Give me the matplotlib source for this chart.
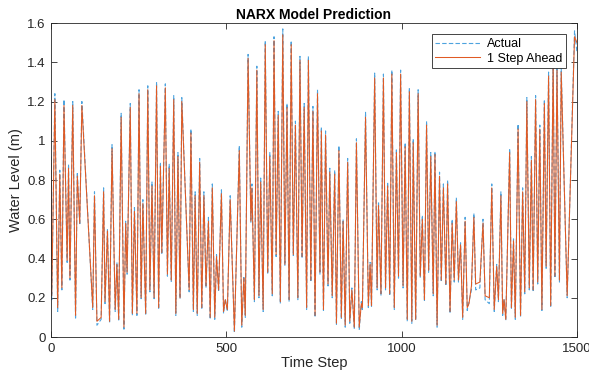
import matplotlib
matplotlib.use("Agg")
import matplotlib.pyplot as plt

plt.rcParams['font.family'] = ['Liberation Sans', 'DejaVu Sans']

time_steps = [
    0, 2, 11, 19, 25, 31, 37, 46, 50, 54,
    62, 70, 75, 82, 88, 119, 124, 131, 143, 150,
    154, 161, 167, 174, 183, 188, 193, 200, 208, 213,
    217, 226, 232, 238, 245, 251, 257, 262, 270, 276,
    282, 288, 294, 301, 307, 312, 316, 326, 332, 337,
    343, 350, 356, 362, 368, 373, 394, 399, 406, 411,
    417, 424, 430, 436, 442, 449, 454, 460, 467, 472,
    478, 486, 492, 497, 503, 511, 523, 537, 544, 550,
    554, 562, 570, 573, 580, 587, 593, 598, 605, 611,
    618, 624, 631, 636, 642, 648, 654, 661, 667, 673,
    679, 685, 691, 697, 704, 710, 716, 722, 729, 734,
    741, 747, 753, 760, 767, 771, 777, 783, 790, 795,
    802, 809, 814, 821, 828, 833, 839, 846, 852, 858,
    865, 871, 879, 885, 888, 897, 905, 910, 914, 923,
    930, 934, 941, 948, 954, 960, 966, 972, 979, 985,
    991, 997, 1004, 1010, 1016, 1022, 1029, 1033, 1040, 1047,
    1053, 1059, 1065, 1071, 1077, 1083, 1090, 1095, 1101, 1108,
    1113, 1119, 1126, 1131, 1138, 1144, 1150, 1156, 1162, 1168,
    1174, 1181, 1187, 1192, 1199, 1206, 1211, 1223, 1232, 1238,
    1250, 1257, 1264, 1271, 1276, 1283, 1288, 1292, 1297, 1308,
    1313, 1319, 1324, 1332, 1339, 1345, 1351, 1357, 1364, 1370,
    1375, 1382, 1388, 1394, 1400, 1407, 1412, 1419, 1425, 1432,
    1437, 1443, 1450, 1455, 1472, 1493, 1500,
]

actual = [
    0.92, 0.19, 1.24, 0.13, 0.85, 0.24, 1.21, 0.38, 0.88, 0.29,
    1.20, 0.09, 0.84, 0.57, 1.20, 0.14, 0.74, 0.06, 0.09, 0.76,
    0.17, 0.55, 0.07, 0.98, 0.13, 0.38, 0.08, 1.14, 0.04, 0.59,
    0.32, 1.19, 0.11, 0.66, 0.11, 1.26, 0.195, 0.70, 0.11, 1.28,
    0.23, 0.79, 0.195, 1.30, 0.14, 0.89, 0.42, 1.29, 0.31, 0.88,
    0.28, 1.23, 0.11, 0.94, 0.195, 1.22, 0.23, 1.06, 0.13, 0.74,
    0.11, 0.91, 0.14, 0.74, 0.25, 0.61, 0.09, 0.78, 0.09, 0.42,
    0.23, 0.75, 0.12, 0.195, 0.13, 0.72, 0.02, 0.975, 0.05, 0.31,
    0.10, 1.44, 0.585, 0.78, 0.18, 1.38, 0.20, 0.81, 0.13, 1.51,
    0.32, 0.94, 0.21, 1.53, 0.41, 1.15, 0.17, 1.57, 0.365, 1.19,
    0.18, 1.51, 0.415, 1.10, 0.19, 1.43, 0.40, 1.19, 0.14, 1.43,
    0.28, 1.175, 0.10, 1.26, 0.32, 1.07, 0.135, 1.05, 0.26, 0.86,
    0.20, 0.85, 0.06, 0.975, 0.09, 0.60, 0.05, 0.91, 0.07, 0.25,
    0.04, 1.01, 0.035, 0.18, 0.14, 1.145, 0.15, 0.38, 0.15, 1.345,
    0.24, 0.69, 0.21, 1.34, 0.24, 0.79, 0.21, 1.36, 0.14, 0.96,
    0.30, 1.36, 0.25, 0.99, 0.08, 1.27, 0.07, 1.01, 0.085, 1.26,
    0.305, 0.62, 0.18, 1.10, 0.33, 0.94, 0.21, 0.945, 0.05, 0.84,
    0.28, 0.78, 0.26, 0.80, 0.12, 0.60, 0.28, 0.71, 0.28, 0.48,
    0.09, 0.61, 0.135, 0.18, 0.24, 0.63, 0.24, 0.25, 0.60, 0.19,
    0.17, 0.78, 0.13, 0.37, 0.18, 0.74, 0.11, 0.195, 0.085, 0.96,
    0.14, 0.50, 0.09, 1.085, 0.10, 0.76, 0.22, 1.22, 0.24, 0.92,
    0.23, 1.23, 0.27, 1.08, 0.135, 1.21, 0.35, 1.35, 0.15, 1.43,
    0.30, 1.38, 0.28, 1.37, 0.20, 1.56, 1.45,
]

predicted = [
    0.90, 0.21, 1.21, 0.15, 0.83, 0.25, 1.18, 0.39, 0.86, 0.30,
    1.18, 0.11, 0.82, 0.58, 1.18, 0.15, 0.72, 0.08, 0.10, 0.74,
    0.18, 0.54, 0.08, 0.96, 0.14, 0.37, 0.09, 1.12, 0.05, 0.58,
    0.33, 1.17, 0.12, 0.64, 0.12, 1.24, 0.20, 0.68, 0.12, 1.26,
    0.24, 0.77, 0.20, 1.28, 0.15, 0.87, 0.43, 1.27, 0.32, 0.86,
    0.29, 1.21, 0.12, 0.92, 0.20, 1.20, 0.24, 1.04, 0.14, 0.72,
    0.12, 0.89, 0.15, 0.72, 0.26, 0.59, 0.10, 0.76, 0.10, 0.41,
    0.24, 0.73, 0.13, 0.19, 0.14, 0.70, 0.03, 0.95, 0.06, 0.30,
    0.11, 1.42, 0.59, 0.76, 0.19, 1.36, 0.21, 0.79, 0.14, 1.49,
    0.33, 0.92, 0.22, 1.51, 0.42, 1.13, 0.18, 1.54, 0.37, 1.17,
    0.19, 1.49, 0.42, 1.08, 0.20, 1.41, 0.41, 1.17, 0.15, 1.41,
    0.29, 1.15, 0.11, 1.24, 0.33, 1.05, 0.14, 1.03, 0.27, 0.84,
    0.21, 0.83, 0.07, 0.95, 0.10, 0.59, 0.06, 0.89, 0.08, 0.24,
    0.05, 0.99, 0.05, 0.17, 0.15, 1.12, 0.16, 0.37, 0.16, 1.32,
    0.25, 0.67, 0.22, 1.32, 0.25, 0.77, 0.22, 1.34, 0.15, 0.94,
    0.31, 1.34, 0.26, 0.97, 0.09, 1.25, 0.08, 0.99, 0.09, 1.24,
    0.31, 0.60, 0.19, 1.08, 0.34, 0.92, 0.22, 0.93, 0.06, 0.82,
    0.29, 0.76, 0.27, 0.78, 0.13, 0.58, 0.29, 0.69, 0.29, 0.47,
    0.10, 0.59, 0.15, 0.17, 0.26, 0.61, 0.27, 0.28, 0.58, 0.21,
    0.20, 0.76, 0.14, 0.36, 0.19, 0.72, 0.12, 0.19, 0.09, 0.94,
    0.15, 0.49, 0.10, 1.06, 0.11, 0.74, 0.23, 1.20, 0.25, 0.90,
    0.24, 1.21, 0.28, 1.06, 0.14, 1.19, 0.36, 1.33, 0.16, 1.41,
    0.31, 1.36, 0.29, 1.35, 0.21, 1.53, 1.50,
]

x_ticks = [0, 500, 1000, 1500]
y_ticks = [0, 0.2, 0.4, 0.6, 0.8, 1.0, 1.2, 1.4, 1.6]
y_tick_labels = ["0", "0.2", "0.4", "0.6", "0.8", "1", "1.2", "1.4", "1.6"]

fig = plt.figure(figsize=(5.89, 3.76), dpi=100)
ax = fig.add_axes([0.0866, 0.1037, 0.8930, 0.8351])

ax.plot(time_steps, actual, color='#4DA3DE', lw=0.8, ls=(0, (4, 2)), label='Actual')
ax.plot(time_steps, predicted, color='#E05A24', lw=0.75, label='1 Step Ahead')

ax.set_xlim(0, 1500)
ax.set_ylim(0, 1.6)
ax.set_xticks(x_ticks)
ax.set_xticklabels([str(v) for v in x_ticks])
ax.set_yticks(y_ticks)
ax.set_yticklabels(y_tick_labels)
ax.tick_params(direction='in', top=True, right=True, length=4, width=0.6,
               labelsize=9.5, colors='#262626', pad=4)
for s in ax.spines.values():
    s.set_color('#262626')
    s.set_linewidth(0.6)

ax.set_title('NARX Model Prediction', fontsize=10, fontweight='bold', pad=3)
ax.set_xlabel('Time Step', fontsize=10.5, color='#262626', labelpad=1)
ax.set_ylabel('Water Level (m)', fontsize=10.5, color='#262626', labelpad=3)

leg = ax.legend(loc='upper right', fontsize=9, handlelength=3.6, fancybox=False,
                framealpha=1, edgecolor='#262626', borderpad=0.3, labelspacing=0.2,
                handletextpad=0.5, borderaxespad=0.9)
leg.get_frame().set_linewidth(0.6)

fig.savefig('out.png', dpi=100)
